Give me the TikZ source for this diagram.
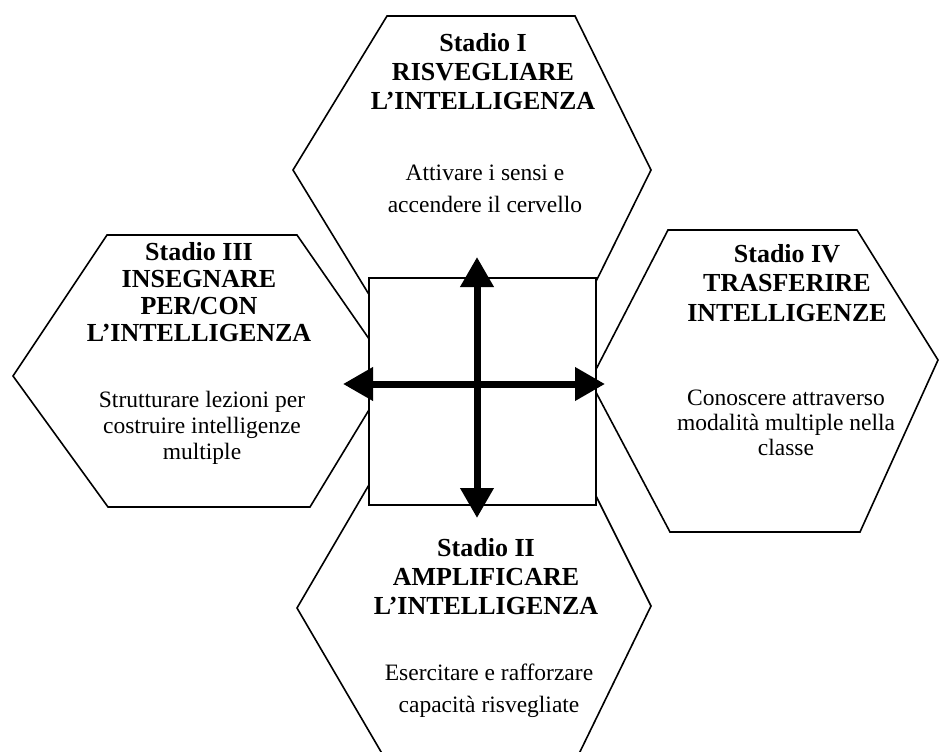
\documentclass[tikz,border=0pt]{standalone}
\usepackage{fontspec}
\setmainfont{Liberation Serif}
\usetikzlibrary{arrows.meta}
\begin{document}
\begin{tikzpicture}[x=1pt,y=-1pt,
  hexa/.style={draw=black,line width=1.6pt,fill=white,line join=miter},
  ttl/.style={align=center,font=\fontsize{26}{#1}\selectfont\bfseries,inner sep=0pt},
  dsc/.style={align=center,font=\fontsize{23.5}{#1}\selectfont,inner sep=0pt},
  hub/.style={draw=black,line width=2pt,fill=white},
  bigarrow/.style={line width=7pt,-{Triangle[width=32pt,length=30pt]}}]
\useasboundingbox (0,0) rectangle (940,752);
\clip (0,0) rectangle (940,752);
% hexagons
\draw[hexa] (293,170) -- (387,16) -- (575,16) -- (651,170) -- (575,324) -- (387,324) -- cycle;
\draw[hexa] (13,376) -- (107,235) -- (297,235) -- (392,372) -- (310,507) -- (108,507) -- cycle;
\draw[hexa] (590,381) -- (668,230) -- (857,230) -- (938,360) -- (860,532) -- (670,532) -- cycle;
\draw[hexa] (297,608) -- (387,454) -- (575,454) -- (651,606) -- (575,762) -- (387,762) -- cycle;
% central square
\node[hub,minimum width=227pt,minimum height=227pt,inner sep=0pt] (hub) at (482.5,391.5) {};
% arrows
\coordinate (c) at (477,384);
\coordinate (up) at (477,257);
\coordinate (down) at (477,518);
\coordinate (left) at (343,384);
\coordinate (right) at (605,384);
\draw[bigarrow] (c) -- (up);
\draw[bigarrow] (c) -- (down);
\draw[bigarrow] (c) -- (left);
\draw[bigarrow] (c) -- (right);
% texts
\node[ttl=29pt] (t1) at (483,72) {Stadio I\\RISVEGLIARE\\L’INTELLIGENZA};
\node[dsc=32pt] (d1) at (485,189) {Attivare i sensi e\\accendere il cervello};
\node[ttl=27pt] (t3) at (199,292) {Stadio III\\INSEGNARE\\PER/CON\\L’INTELLIGENZA};
\node[dsc=26pt] (d3) at (202,428) {Strutturare lezioni per\\costruire intelligenze\\multiple};
\node[ttl=29.5pt] (t4) at (787,283) {Stadio IV\\TRASFERIRE\\INTELLIGENZE};
\node[dsc=25pt] (d4) at (786,423) {Conoscere attraverso\\modalità multiple nella\\classe};
\node[ttl=29pt] (t2) at (486,577) {Stadio II\\AMPLIFICARE\\L’INTELLIGENZA};
\node[dsc=32pt] (d2) at (489,691) {Esercitare e rafforzare\\capacità risvegliate};
\end{tikzpicture}
\end{document}
